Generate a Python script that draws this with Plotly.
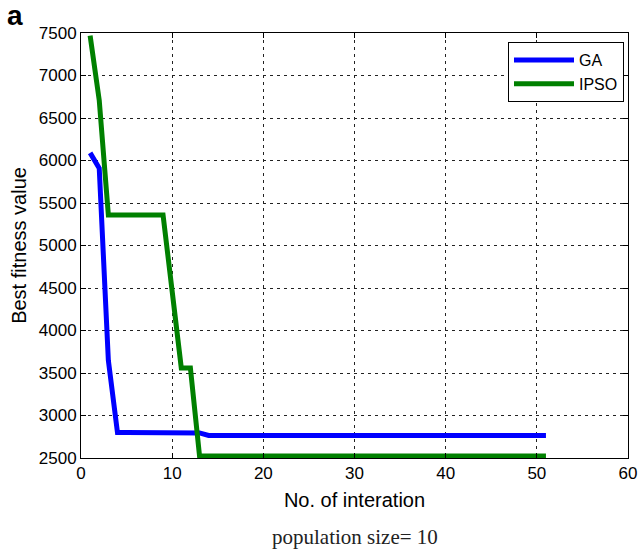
import plotly.graph_objects as go

# Convergence of best fitness value per iteration (population size = 10)
iterations = list(range(1, 52))

ga_best = [6090, 5910, 3650, 2800, 2800, 2800, 2800, 2800, 2800, 2800,
           2800, 2800, 2795] + [2765] * 38

ipso_best = [7470, 6710, 5360, 5360, 5360, 5360, 5360, 5360, 5360, 4460,
             3560, 3560, 2525] + [2525] * 38

x_ticks = [0, 10, 20, 30, 40, 50, 60]
y_ticks = [2500, 3000, 3500, 4000, 4500, 5000, 5500, 6000, 6500, 7000, 7500]

SANS = "Liberation Sans, Arial, sans-serif"
SERIF = "Liberation Serif, Times New Roman, serif"

fig = go.Figure()
fig.add_trace(go.Scatter(x=iterations, y=ga_best, mode="lines", name="GA",
                         line=dict(color="#0000ff", width=5)))
fig.add_trace(go.Scatter(x=iterations, y=ipso_best, mode="lines", name="IPSO",
                         line=dict(color="#008000", width=5)))

tick_font = dict(family=SANS, size=17, color="black")

# plot area in pixels
L, R, T, B = 81, 10, 33, 93
W, H = 638, 551
plot_w = W - L - R
plot_h = H - T - B

fig.update_layout(
    width=W, height=H,
    margin=dict(l=L, r=R, t=T, b=B, autoexpand=False),
    paper_bgcolor="white", plot_bgcolor="white",
    font=dict(family=SANS, color="black"),
    showlegend=True,
    legend=dict(x=(624 - L) / plot_w, y=(H - B - 42) / plot_h, xanchor="right", yanchor="top",
                bordercolor="black", borderwidth=1, bgcolor="white",
                font=dict(family=SANS, size=16), tracegroupgap=0, itemwidth=60),
    xaxis=dict(range=[0, 60], tickvals=x_ticks, ticks="inside", ticklen=5,
               tickcolor="black", showline=True, linecolor="black", linewidth=1,
               mirror="ticks", showgrid=True, gridcolor="#222222", griddash="3px,4px",
               gridwidth=1, zeroline=False, tickfont=tick_font, automargin=False,
               title=dict(text="No. of interation", font=dict(size=20), standoff=10)),
    yaxis=dict(range=[2500, 7500], tickvals=y_ticks, ticks="inside", ticklen=5,
               tickcolor="black", showline=True, linecolor="black", linewidth=1,
               mirror="ticks", showgrid=True, gridcolor="#222222", griddash="3px,4px",
               gridwidth=1, zeroline=False, tickfont=tick_font, automargin=False,
               title=dict(text="Best fitness value", font=dict(size=20), standoff=6)),
    annotations=[
        dict(text="<b>a</b>", x=(15 - L) / plot_w, y=(H - B - 15) / plot_h,
             xref="paper", yref="paper", showarrow=False, xanchor="center", yanchor="middle",
             font=dict(size=28, family=SANS, color="black")),
        dict(text="population size= 10", x=0.5, y=(H - B - 537) / plot_h,
             xref="paper", yref="paper", showarrow=False, xanchor="center", yanchor="middle",
             font=dict(size=21, family=SERIF, color="#222222")),
    ],
)

fig.write_html("out.html")
